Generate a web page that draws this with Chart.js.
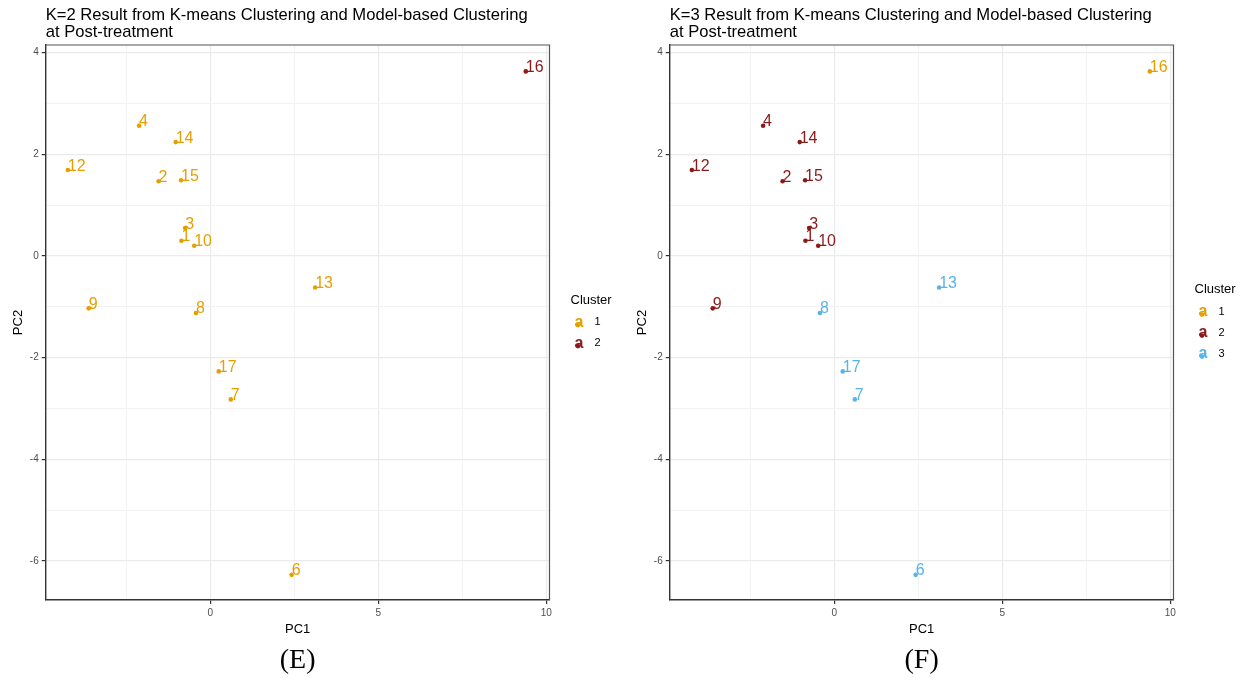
<!DOCTYPE html>
<html>
<head>
<meta charset="utf-8">
<script src="https://cdn.jsdelivr.net/npm/chart.js@4.4.1/dist/chart.umd.min.js"></script>
<style>
  html, body { margin: 0; padding: 0; background: #fff; overflow: hidden; }
  canvas { position: absolute; top: 0; }
</style>
</head>
<body>
<canvas id="panelE" width="624" height="678" style="left:0px"></canvas>
<canvas id="panelF" width="624" height="678" style="left:624px"></canvas>
<script>
// sample ids and their PC scores
const sampleIds = ['1', '2', '3', '4', '6', '7', '8', '9', '10', '12', '13', '14', '15', '16', '17'];
const pc1 = [-0.86, -1.54, -0.75, -2.12, 2.42, 0.61, -0.43, -3.62, -0.48, -4.24, 3.12, -1.03, -0.87, 9.39, 0.25];
const pc2 = [0.30, 1.47, 0.55, 2.56, -6.27, -2.82, -1.12, -1.03, 0.20, 1.69, -0.62, 2.24, 1.49, 3.63, -2.27];

// cluster membership per sample
const clusterK2 = [1, 1, 1, 1, 1, 1, 1, 1, 1, 1, 1, 1, 1, 2, 1];
const clusterK3 = [2, 2, 2, 2, 3, 3, 3, 2, 2, 2, 3, 2, 2, 1, 3];
const clusterColors = ['#E69F00', '#8B1A1A', '#56B4E9'];

// axis ticks
const xMajorTicks = [0, 5, 10];
const xMinorTicks = [-2.5, 2.5, 7.5];
const yMajorTicks = [-6, -4, -2, 0, 2, 4];
const yMinorTicks = [-5, -3, -1, 1, 3];

const FONT = "'Liberation Sans', Arial, sans-serif";

// text labels next to each point (like geom_text with hjust = 0, vjust = 0)
const pointLabels = {
  id: 'pointLabels',
  afterDatasetsDraw(chart) {
    const ctx = chart.ctx;
    const meta = chart.getDatasetMeta(0);
    const colors = chart.data.datasets[0].pointBackgroundColor;
    ctx.save();
    ctx.font = '16px ' + FONT;
    ctx.textAlign = 'left';
    ctx.textBaseline = 'alphabetic';
    meta.data.forEach((pt, i) => {
      ctx.fillStyle = colors[i];
      ctx.fillText(sampleIds[i], pt.x, pt.y + 0.5);
    });
    ctx.restore();
  }
};

// title, panel border, legend and caption
const panelDecor = {
  id: 'panelDecor',
  afterDraw(chart, args, opts) {
    const ctx = chart.ctx;
    const area = chart.chartArea;
    ctx.save();

    // top + right panel border
    ctx.strokeStyle = '#555';
    ctx.lineWidth = 1.2;
    ctx.beginPath();
    ctx.moveTo(area.left, area.top);
    ctx.lineTo(area.right, area.top);
    ctx.lineTo(area.right, area.bottom);
    ctx.stroke();

    // title
    ctx.fillStyle = '#000';
    ctx.font = '16.6px ' + FONT;
    ctx.textAlign = 'left';
    ctx.textBaseline = 'alphabetic';
    opts.title.forEach((line, i) => ctx.fillText(line, area.left, 20 + i * 17));

    // legend
    const n = opts.legendItems;
    const firstY = 332.6 - (n - 1) * 10.5;
    ctx.textBaseline = 'middle';
    ctx.font = '13px ' + FONT;
    ctx.fillText('Cluster', 570.5, firstY - 22);
    for (let k = 0; k < n; k++) {
      const y = firstY + k * 21;
      ctx.fillStyle = clusterColors[k];
      ctx.beginPath();
      ctx.arc(578, y + 3, 2.3, 0, Math.PI * 2);
      ctx.fill();
      ctx.font = 'bold 16px ' + FONT;
      ctx.textAlign = 'center';
      ctx.fillText('a', 579, y);
      ctx.fillStyle = '#000';
      ctx.font = '11px ' + FONT;
      ctx.textAlign = 'left';
      ctx.fillText(String(k + 1), 594.5, y);
    }

    // caption below the panel
    ctx.font = '28px "Liberation Serif", "Times New Roman", serif';
    ctx.textAlign = 'center';
    ctx.fillText(opts.caption, (area.left + area.right) / 2, 661);
    ctx.restore();
  }
};

function makePanel(canvasId, clusters, title, caption, nClusters) {
  const colors = clusters.map(c => clusterColors[c - 1]);
  const points = pc1.map((x, i) => ({ x: x, y: pc2[i] }));
  return new Chart(document.getElementById(canvasId), {
    type: 'scatter',
    data: {
      datasets: [{
        data: points,
        pointBackgroundColor: colors,
        pointBorderWidth: 0,
        pointRadius: 2.3,
        pointHoverRadius: 2.3
      }]
    },
    options: {
      responsive: false,
      animation: false,
      events: [],
      layout: { padding: { top: 45, left: 0, right: 74.5, bottom: 38 } },
      plugins: {
        legend: { display: false },
        tooltip: { enabled: false },
        panelDecor: { title: title, caption: caption, legendItems: nClusters }
      },
      scales: {
        x: {
          type: 'linear',
          min: -4.9,
          max: 10.095,
          afterFit: (s) => { s.height = 40; },
          afterBuildTicks: (s) => {
            s.ticks = xMinorTicks.concat(xMajorTicks).sort((a, b) => a - b).map(v => ({ value: v }));
          },
          ticks: {
            autoSkip: false,
            maxRotation: 0,
            padding: 3,
            color: '#4D4D4D',
            font: { family: FONT, size: 10 },
            callback: (v) => xMajorTicks.includes(v) ? String(v) : ''
          },
          grid: {
            color: (c) => xMajorTicks.includes(c.tick.value) ? '#EBEBEB' : '#F2F2F2',
            lineWidth: (c) => xMajorTicks.includes(c.tick.value) ? 1.2 : 1,
            tickColor: (c) => xMajorTicks.includes(c.tick.value) ? '#333333' : 'rgba(0,0,0,0)',
            tickLength: 4
          },
          border: { display: true, color: '#333333', width: 1.4 },
          title: {
            display: true,
            text: 'PC1',
            color: '#000',
            font: { family: FONT, size: 13 },
            padding: { top: 0, bottom: 3 }
          }
        },
        y: {
          type: 'linear',
          min: -6.765,
          max: 4.149,
          afterFit: (s) => { s.width = 45.7; },
          afterBuildTicks: (s) => {
            s.ticks = yMinorTicks.concat(yMajorTicks).sort((a, b) => a - b).map(v => ({ value: v }));
          },
          ticks: {
            autoSkip: false,
            padding: 3,
            color: '#4D4D4D',
            font: { family: FONT, size: 10 },
            callback: (v) => yMajorTicks.includes(v) ? String(v) : ''
          },
          grid: {
            color: (c) => yMajorTicks.includes(c.tick.value) ? '#EBEBEB' : '#F2F2F2',
            lineWidth: (c) => yMajorTicks.includes(c.tick.value) ? 1.2 : 1,
            tickColor: (c) => yMajorTicks.includes(c.tick.value) ? '#333333' : 'rgba(0,0,0,0)',
            tickLength: 4
          },
          border: { display: true, color: '#333333', width: 1.4 },
          title: {
            display: true,
            text: 'PC2',
            color: '#000',
            font: { family: FONT, size: 13 },
            padding: { top: 10.5, bottom: 0 }
          }
        }
      }
    },
    plugins: [pointLabels, panelDecor]
  });
}

makePanel('panelE', clusterK2,
  ['K=2 Result from K-means Clustering and Model-based Clustering', 'at Post-treatment'], '(E)', 2);
makePanel('panelF', clusterK3,
  ['K=3 Result from K-means Clustering and Model-based Clustering', 'at Post-treatment'], '(F)', 3);
</script>
</body>
</html>
